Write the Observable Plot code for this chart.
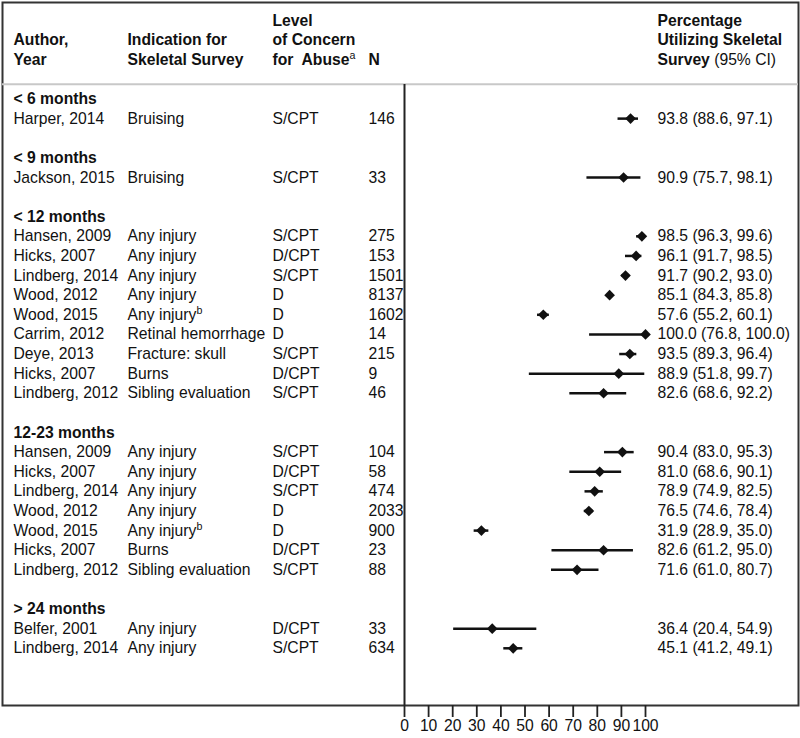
<!DOCTYPE html>
<html>
<head>
<meta charset="utf-8">
<script src="https://cdn.jsdelivr.net/npm/d3@7"></script>
<script src="https://cdn.jsdelivr.net/npm/@observablehq/plot@0.6"></script>
<style>
  body { margin: 0; background: #fff; }
  #chart svg { display: block; }
</style>
</head>
<body>
<div id="chart"></div>
<script>
// ---------------- DATA ----------------
const ageGroups = ["< 6 months", "< 9 months", "< 12 months", "12-23 months", "> 24 months"];

const studyGroup = [0, 1, 2, 2, 2, 2, 2, 2, 2, 2, 2, 3, 3, 3, 3, 3, 3, 3, 4, 4];
const authors = [
  "Harper, 2014", "Jackson, 2015",
  "Hansen, 2009", "Hicks, 2007", "Lindberg, 2014", "Wood, 2012", "Wood, 2015", "Carrim, 2012", "Deye, 2013", "Hicks, 2007", "Lindberg, 2012",
  "Hansen, 2009", "Hicks, 2007", "Lindberg, 2014", "Wood, 2012", "Wood, 2015", "Hicks, 2007", "Lindberg, 2012",
  "Belfer, 2001", "Lindberg, 2014"
];
const indications = [
  "Bruising", "Bruising",
  "Any injury", "Any injury", "Any injury", "Any injury", "Any injury\u1D47", "Retinal hemorrhage", "Fracture: skull", "Burns", "Sibling evaluation",
  "Any injury", "Any injury", "Any injury", "Any injury", "Any injury\u1D47", "Burns", "Sibling evaluation",
  "Any injury", "Any injury"
];
const concern = [
  "S/CPT", "S/CPT",
  "S/CPT", "D/CPT", "S/CPT", "D", "D", "D", "S/CPT", "D/CPT", "S/CPT",
  "S/CPT", "D/CPT", "S/CPT", "D", "D", "D/CPT", "S/CPT",
  "D/CPT", "S/CPT"
];
const nValues = [146, 33, 275, 153, 1501, 8137, 1602, 14, 215, 9, 46, 104, 58, 474, 2033, 900, 23, 88, 33, 634];
const estimate = [93.8, 90.9, 98.5, 96.1, 91.7, 85.1, 57.6, 100.0, 93.5, 88.9, 82.6, 90.4, 81.0, 78.9, 76.5, 31.9, 82.6, 71.6, 36.4, 45.1];
const lower    = [88.6, 75.7, 96.3, 91.7, 90.2, 84.3, 55.2, 76.8, 89.3, 51.8, 68.6, 83.0, 68.6, 74.9, 74.6, 28.9, 61.2, 61.0, 20.4, 41.2];
const upper    = [97.1, 98.1, 99.6, 98.5, 93.0, 85.8, 60.1, 100.0, 96.4, 99.7, 92.2, 95.3, 90.1, 82.5, 78.4, 35.0, 95.0, 80.7, 54.9, 49.1];

const headerAuthor = ["Author,", "Year"];
const headerIndication = ["Indication for", "Skeletal Survey"];
const headerConcern = ["Level", "of Concern", "for  Abuse\u1D43"];
const headerN = ["N"];
const headerPct = ["Percentage", "Utilizing Skeletal", "Survey (95% CI)"];

const xTicks = [0, 10, 20, 30, 40, 50, 60, 70, 80, 90, 100];

// ---------------- LAYOUT (styles / offsets) ----------------
const W = 800, H = 738;
const col = {author: 11, indication: 125, concern: 270, n: 366, ci: 655};
const fs = 15.7;
const font = "'Liberation Sans', Arial, Helvetica, sans-serif";
const ink = "#111";
const headerRule = -0.75;

// ---------------- BUILD TABLES ----------------
const groupRows = [];
const studies = [];
let r = 0;
ageGroups.forEach((g, gi) => {
  if (gi > 0) r += 1; // blank spacer row
  groupRows.push({label: g, row: r});
  r += 1;
  studyGroup.forEach((sg, i) => {
    if (sg !== gi) return;
    studies.push({
      author: authors[i],
      indication: indications[i],
      concern: concern[i],
      n: String(nValues[i]),
      est: estimate[i], lo: lower[i], hi: upper[i],
      ci: `${estimate[i].toFixed(1)} (${lower[i].toFixed(1)}, ${upper[i].toFixed(1)})`,
      row: r
    });
    r += 1;
  });
});
const lastRow = r - 1;

const headers = [];
[[headerAuthor, "author"], [headerIndication, "indication"], [headerConcern, "concern"], [headerN, "n"], [headerPct, "ci"]]
  .forEach(([lines, key]) => lines.forEach((t, i) => headers.push({text: t, key, row: -1 - (lines.length - i)})));

const colText = (data, field, dx, extra = {}) =>
  Plot.text(data, {y: "row", text: field, frameAnchor: "left", dx, textAnchor: "start",
                   fontSize: fs, fill: ink, ...extra});

const plot = Plot.plot({
  width: W,
  height: H,
  marginLeft: 2,
  marginRight: 2,
  marginTop: 2,
  marginBottom: 33,
  style: {fontFamily: font, fontSize: fs + "px", color: ink, background: "#fff"},
  x: {domain: [0, 100], range: [404, 645]},
  y: {domain: [0, lastRow], range: [98.5, 647.8], axis: null},
  marks: [
    Plot.frame({stroke: "#333", strokeWidth: 2}),
    Plot.ruleY([headerRule], {stroke: "#c8c8c8", strokeWidth: 2}),
    Plot.ruleX([0], {insetTop: 82, stroke: "#222", strokeWidth: 2}),
    // header
    ...Object.keys(col).map(k =>
      colText(headers.filter(d => d.key === k), "text", col[k], {fontWeight: "bold"})),
    // group headings
    colText(groupRows, "label", col.author, {fontWeight: "bold"}),
    // table columns
    colText(studies, "author", col.author),
    colText(studies, "indication", col.indication),
    colText(studies, "concern", col.concern),
    colText(studies, "n", col.n),
    colText(studies, "ci", col.ci),
    // CI lines and estimates
    Plot.ruleY(studies, {y: "row", x1: "lo", x2: "hi", stroke: ink, strokeWidth: 2.5}),
    Plot.dot(studies, {x: "est", y: "row", symbol: "diamond2", r: 4.8, fill: ink, stroke: "none"}),
    // axis
    Plot.axisX(xTicks, {anchor: "bottom", tickSize: 12, tickPadding: 2, fontSize: fs,
                        stroke: "#222", strokeWidth: 1.8, fill: ink, label: null})
  ]
});

// superscripts and mixed-weight header text
const NS = "http://www.w3.org/2000/svg";
plot.querySelectorAll("text").forEach(t => {
  if (t.querySelector("tspan")) return;
  const s = t.textContent;
  const sup = s.match(/^(.*?)([\u1D43\u1D47])$/);
  if (sup) {
    t.textContent = sup[1];
    const ts = document.createElementNS(NS, "tspan");
    ts.setAttribute("font-size", "68%");
    ts.setAttribute("font-weight", "normal");
    ts.setAttribute("dy", "-0.5em");
    ts.textContent = sup[2] === "\u1D43" ? "a" : "b";
    t.appendChild(ts);
  }
  const ci = s.match(/^(Survey )(\(95% CI\))$/);
  if (ci) {
    t.textContent = ci[1];
    const ts = document.createElementNS(NS, "tspan");
    ts.setAttribute("font-weight", "normal");
    ts.textContent = ci[2];
    t.appendChild(ts);
  }
});

document.getElementById("chart").appendChild(plot);
</script>
</body>
</html>
